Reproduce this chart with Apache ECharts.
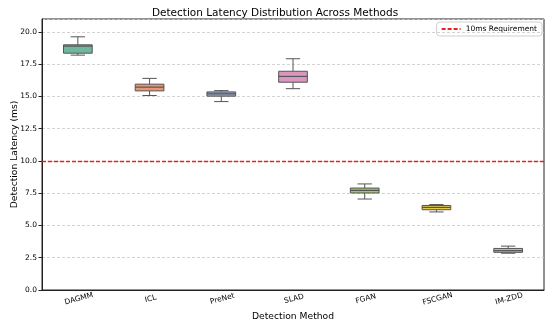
<!DOCTYPE html>
<html>
<head>
<meta charset="utf-8">
<script src="https://cdn.jsdelivr.net/npm/echarts@6/dist/echarts.min.js"></script>
<style>html,body{margin:0;padding:0;background:#fff}#c{width:550px;height:328px}</style>
</head>
<body>
<div id="c"></div>
<script>
const categories = ['DAGMM','ICL','PreNet','SLAD','FGAN','FSCGAN','IM-ZDD'];
const minVals = [18.2, 15.07, 14.6, 15.6, 7.05, 6.05, 2.85];
const q1Vals  = [18.35, 15.43, 15.02, 16.1, 7.52, 6.22, 2.92];
const medVals = [18.9, 15.72, 15.2, 16.55, 7.72, 6.4, 3.05];
const q3Vals  = [19.0, 15.95, 15.35, 16.95, 7.9, 6.55, 3.22];
const maxVals = [19.62, 16.4, 15.45, 17.92, 8.22, 6.62, 3.4];
const requirement = 10;
const boxColors = ['#71b6a1','#e99675','#95a3c3','#db96c0','#a2c765','#e5c849','#c4b89e'];

const rows = categories.map((c,i)=>[i,minVals[i],q1Vals[i],medVals[i],q3Vals[i],maxVals[i]]);
const FONT = 'DejaVu Sans';
const edge = '#555555';

const chart = echarts.init(document.getElementById('c'));
chart.setOption({
  animation:false,
  textStyle:{fontFamily:FONT},
  title:{text:'Detection Latency Distribution Across Methods',left:'center',top:3,
    textStyle:{fontFamily:FONT,fontSize:10.5,fontWeight:'normal',color:'#000'}},
  legend:{data:['10ms Requirement'],right:8,top:22,orient:'vertical',
    borderColor:'#d0d0d0',borderWidth:1,borderRadius:3,padding:[3,5,3,4],
    itemWidth:19,itemHeight:8,itemGap:4,
    itemStyle:{color:'rgba(0,0,0,0)',borderWidth:0,opacity:0},
    textStyle:{fontFamily:FONT,fontSize:7.5,color:'#000'}},
  grid:{left:42,right:6,top:19,bottom:38,show:true,borderColor:'#222',borderWidth:1,
    containLabel:false,outerBoundsMode:'none'},
  xAxis:{type:'category',data:categories,name:'Detection Method',nameLocation:'middle',nameGap:22,
    nameTextStyle:{fontFamily:FONT,fontSize:9.2,color:'#000'},
    axisLine:{lineStyle:{color:'#222'}},
    axisTick:{alignWithLabel:true,length:3.5,lineStyle:{color:'#222'}},
    axisLabel:{rotate:15,fontSize:7.5,color:'#000',margin:5,align:'center',verticalAlign:'top'},
    splitLine:{show:false}},
  yAxis:{type:'value',min:0,max:21,interval:2.5,name:'Detection Latency (ms)',nameLocation:'middle',nameGap:23,
    nameMoveOverlap:false,
    nameTextStyle:{fontFamily:FONT,fontSize:9.2,color:'#000'},
    axisLine:{show:true,lineStyle:{color:'#222'}},
    axisTick:{show:true,length:3.5,lineStyle:{color:'#222'}},
    axisLabel:{fontSize:7.5,color:'#000',margin:5,showMaxLabel:false,formatter:v=>v.toFixed(1)},
    splitLine:{show:true,lineStyle:{color:'#c8c8c8',type:[3,2],width:0.8}}},
  series:[
    {type:'custom',name:'box',data:rows,z:3,
     encode:{x:0,y:[1,2,3,4,5]},
     renderItem:function(params,api){
       const i=api.value(0);
       const w=api.size([1,0])[0]*0.4;
       const cx=api.coord([i,0])[0];
       const yMin=api.coord([i,api.value(1)])[1];
       const yQ1=api.coord([i,api.value(2)])[1];
       const yMed=api.coord([i,api.value(3)])[1];
       const yQ3=api.coord([i,api.value(4)])[1];
       const yMax=api.coord([i,api.value(5)])[1];
       const ls={stroke:edge,lineWidth:1};
       return {type:'group',children:[
         {type:'line',shape:{x1:cx,y1:yQ1,x2:cx,y2:yMin},style:ls},
         {type:'line',shape:{x1:cx,y1:yQ3,x2:cx,y2:yMax},style:ls},
         {type:'line',shape:{x1:cx-w/4,y1:yMin,x2:cx+w/4,y2:yMin},style:ls},
         {type:'line',shape:{x1:cx-w/4,y1:yMax,x2:cx+w/4,y2:yMax},style:ls},
         {type:'rect',shape:{x:cx-w/2,y:yQ3,width:w,height:yQ1-yQ3},style:{fill:boxColors[i],stroke:edge,lineWidth:1}},
         {type:'line',shape:{x1:cx-w/2,y1:yMed,x2:cx+w/2,y2:yMed},style:{stroke:edge,lineWidth:1.2}}
       ]};
     }},
    {type:'line',name:'10ms Requirement',data:[],symbol:'none',showSymbol:false,
     lineStyle:{color:'#e8231f',type:[4,2],width:1.3},itemStyle:{color:'#e8231f'},
     markLine:{silent:true,symbol:'none',label:{show:false},
       lineStyle:{color:'#e8231f',type:[4,2],width:1.3},
       data:[{yAxis:requirement}]}}
  ]
});
</script>
</body>
</html>
